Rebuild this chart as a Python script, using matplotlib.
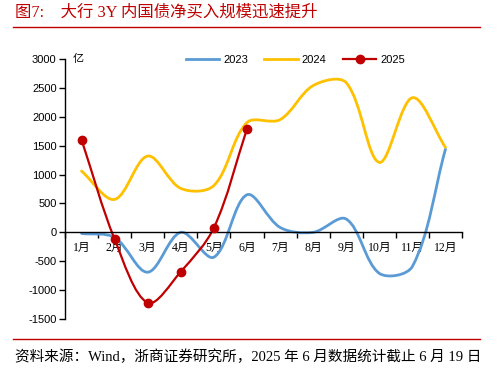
import matplotlib
matplotlib.use("Agg")
import numpy as np
import matplotlib.pyplot as plt
from matplotlib.path import Path
from matplotlib.patches import PathPatch
from matplotlib.lines import Line2D

# monthly net purchases, 100m yuan
months = ["1月", "2月", "3月", "4月", "5月", "6月",
          "7月", "8月", "9月", "10月", "11月", "12月"]
y2023 = [-20, -90, -690, 0, -430, 650, 85, 0, 230, -710, -590, 1440]
y2024 = [1060, 570, 1320, 760, 810, 1900, 1950, 2540, 2590, 1210, 2330, 1470]
y2025 = [1600, -120, -1220, -680, 80, 1790]

BLUE = "#5B9BD5"
GOLD = "#FFC000"
RED = "#C00000"
CJK = ["Liberation Serif", "Noto Sans CJK SC", "DejaVu Sans"]


def smooth_path(ax, xs, ys, t=1 / 3):
    # excel-like smoothing: bezier controls weighted by on-screen segment length
    pts = np.column_stack([xs, ys]).astype(float)
    scr = ax.transData.transform(pts)
    d = np.hypot(*np.diff(scr, axis=0).T)
    n = len(pts)
    verts = [pts[0]]
    codes = [Path.MOVETO]
    for i in range(n - 1):
        a = max(i - 1, 0)
        b = min(i + 2, n - 1)
        d_prev = d[i - 1] if i > 0 else 0.0
        d_next = d[i + 1] if i + 2 < n else 0.0
        c1 = pts[i] + (pts[i + 1] - pts[a]) * t * d[i] / (d_prev + d[i])
        c2 = pts[i + 1] - (pts[b] - pts[i]) * t * d[i] / (d[i] + d_next)
        verts += [c1, c2, pts[i + 1]]
        codes += [Path.CURVE4] * 3
    return Path(verts, codes)


fig = plt.figure(figsize=(4.99, 3.76), dpi=100)
ax = fig.add_axes([0.1303, 0.1516, 0.7956, 0.6915])
ax.set_xlim(-0.5, 11.5)
ax.set_ylim(-1500, 3000)

x = list(range(len(months)))
for ys, col, lw in [(y2023, BLUE, 2.0), (y2024, GOLD, 2.0), (y2025, RED, 1.6)]:
    ax.add_patch(PathPatch(smooth_path(ax, x[:len(ys)], ys), fill=False,
                           edgecolor=col, lw=lw, capstyle="round", zorder=2))
ax.plot(x[:len(y2025)], y2025, ls="none", color=RED, marker="o", ms=6, zorder=3)

ax.set_yticks(range(-1500, 3001, 500))
ax.set_yticklabels([str(v) for v in range(-1500, 3001, 500)],
                   family="Liberation Sans", fontsize=8)
ax.tick_params(axis="y", direction="out", length=4, width=1, pad=2)

ax.spines["top"].set_visible(False)
ax.spines["right"].set_visible(False)
ax.spines["bottom"].set_position(("data", 0))
ax.spines["left"].set_linewidth(1)
ax.spines["bottom"].set_linewidth(1)
ax.set_xticks(x)
ax.set_xticklabels(months, family=CJK, fontsize=8.5)
ax.set_xticks([i - 0.5 for i in range(13)], minor=True)
ax.tick_params(axis="x", which="major", length=0, pad=7)
ax.tick_params(axis="x", which="minor", direction="out", length=4, width=1)

ax.text(0.02, 1.0, "亿", transform=ax.transAxes, family=CJK, fontsize=8,
        ha="left", va="center")

handles = [Line2D([], [], color=BLUE, lw=2.0),
           Line2D([], [], color=GOLD, lw=2.0),
           Line2D([], [], color=RED, lw=1.6, marker="o", ms=6)]
fig.legend(handles, ["2023", "2024", "2025"], loc="center",
           bbox_to_anchor=(0.592, 0.84), ncol=3, frameon=False,
           prop={"family": "Liberation Sans", "size": 8},
           handlelength=3.0, columnspacing=1.5, handletextpad=0.35)

fig.text(0.03, 0.965, "图7:    大行 3Y 内国债净买入规模迅速提升", family=CJK,
         fontsize=11.8, color=RED, ha="left", va="center")
fig.add_artist(Line2D([0.026, 0.962], [0.928, 0.928], color=RED, lw=1))
fig.add_artist(Line2D([0.026, 0.962], [0.098, 0.098], color=RED, lw=1))
fig.text(0.03, 0.052, "资料来源：Wind，浙商证券研究所，2025 年 6 月数据统计截止 6 月 19 日",
         family=CJK, fontsize=10.5, color="black", ha="left", va="center")

fig.savefig("out.png", dpi=100)
